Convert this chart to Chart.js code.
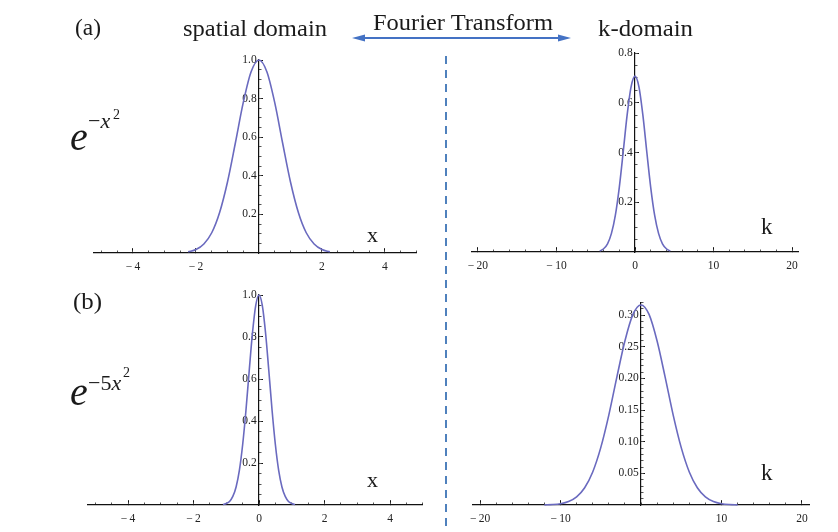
<!DOCTYPE html>
<html>
<head>
<meta charset="utf-8">
<script src="https://cdn.jsdelivr.net/npm/chart.js@4.4.0/dist/chart.umd.min.js"></script>
<style>
  html, body { margin: 0; padding: 0; background: #ffffff; }
  #wrap { position: relative; width: 838px; height: 532px; overflow: hidden; background: #fff; }
  canvas { position: absolute; }
  svg { position: absolute; left: 0; top: 0; pointer-events: none; }
</style>
</head>
<body>
<div id="wrap">
  <canvas id="cAL" width="380" height="250" style="left:50px;top:40px"></canvas>
  <canvas id="cAR" width="388" height="260" style="left:450px;top:30px"></canvas>
  <canvas id="cBL" width="380" height="257" style="left:50px;top:275px"></canvas>
  <canvas id="cBR" width="388" height="252" style="left:450px;top:280px"></canvas>
  <svg width="838" height="532" viewBox="0 0 838 532" xmlns="http://www.w3.org/2000/svg">
    <g font-family="'Liberation Serif','Times New Roman',serif" fill="#1a1a1a">
      <text x="75" y="35" font-size="23" textLength="26" lengthAdjust="spacingAndGlyphs">(a)</text>
      <text x="183" y="36" font-size="23" textLength="144" lengthAdjust="spacingAndGlyphs">spatial domain</text>
      <text x="373" y="30" font-size="23" textLength="180" lengthAdjust="spacingAndGlyphs">Fourier Transform</text>
      <text x="598" y="36" font-size="23" textLength="95" lengthAdjust="spacingAndGlyphs">k-domain</text>
      <text x="73" y="309" font-size="23" textLength="29" lengthAdjust="spacingAndGlyphs">(b)</text>
      <text x="367" y="242" font-size="22">x</text>
      <text x="761" y="234" font-size="23">k</text>
      <text x="367" y="487" font-size="22">x</text>
      <text x="761" y="480" font-size="23">k</text>
      <text y="150" font-size="40"><tspan x="70" font-style="italic">e</tspan></text>
      <text y="128" font-size="22"><tspan x="88">−</tspan><tspan font-style="italic">x</tspan></text>
      <text x="113" y="119" font-size="14">2</text>
      <text y="405" font-size="40"><tspan x="70" font-style="italic">e</tspan></text>
      <text y="390" font-size="22"><tspan x="88">−5</tspan><tspan font-style="italic">x</tspan></text>
      <text x="123" y="377" font-size="14">2</text>
    </g>
    <line x1="446" y1="56" x2="446" y2="532" stroke="#4f81bd" stroke-width="2" stroke-dasharray="8 6"/>
    <line x1="362" y1="38" x2="560" y2="38" stroke="#4472c4" stroke-width="2"/>
    <polygon points="352,38 365,34.5 365,41.5" fill="#4472c4"/>
    <polygon points="571,38 558,34.5 558,41.5" fill="#4472c4"/>
  </svg>
</div>
<script>
// ---- Data ----
// (a) spatial domain: f(x) = exp(-x^2)
const xA  = [-2.25, -2.0, -1.75, -1.5, -1.25, -1.0, -0.75, -0.5, -0.25, 0.0, 0.25, 0.5, 0.75, 1.0, 1.25, 1.5, 1.75, 2.0, 2.25];
const fA  = [0.006, 0.018, 0.047, 0.105, 0.210, 0.368, 0.570, 0.779, 0.939, 1.000, 0.939, 0.779, 0.570, 0.368, 0.210, 0.105, 0.047, 0.018, 0.006];
// (a) k-domain
const kA  = [-4.5, -4.0, -3.5, -3.0, -2.5, -2.0, -1.5, -1.0, -0.5, 0.0, 0.5, 1.0, 1.5, 2.0, 2.5, 3.0, 3.5, 4.0, 4.5];
const FA  = [0.004, 0.013, 0.033, 0.075, 0.148, 0.260, 0.403, 0.551, 0.664, 0.707, 0.664, 0.551, 0.403, 0.260, 0.148, 0.075, 0.033, 0.013, 0.004];
// (b) spatial domain: f(x) = exp(-5x^2)
const xB  = [-1.1, -1.0, -0.9, -0.8, -0.7, -0.6, -0.5, -0.4, -0.3, -0.2, -0.1, 0.0, 0.1, 0.2, 0.3, 0.4, 0.5, 0.6, 0.7, 0.8, 0.9, 1.0, 1.1];
const fB  = [0.002, 0.007, 0.017, 0.041, 0.086, 0.165, 0.287, 0.449, 0.638, 0.819, 0.951, 1.000, 0.951, 0.819, 0.638, 0.449, 0.287, 0.165, 0.086, 0.041, 0.017, 0.007, 0.002];
// (b) k-domain
const kB  = [-12, -11, -10, -9, -8, -7, -6, -5, -4, -3, -2, -1, 0, 1, 2, 3, 4, 5, 6, 7, 8, 9, 10, 11, 12];
const FB  = [0.0002, 0.0007, 0.0021, 0.0055, 0.0129, 0.0273, 0.0522, 0.0906, 0.142, 0.202, 0.259, 0.301, 0.316, 0.301, 0.259, 0.202, 0.142, 0.0906, 0.0522, 0.0273, 0.0129, 0.0055, 0.0021, 0.0007, 0.0002];

// ---- Tick labels ----
const xTicksAL = [-4, -2, 2, 4];
const xTicksBL = [-4, -2, 0, 2, 4];
const kTicksAR = [-20, -10, 0, 10, 20];
const kTicksBR = [-20, -10, 10, 20];
const yTicksAL = [0.2, 0.4, 0.6, 0.8, 1.0];
const yTicksAR = [0.2, 0.4, 0.6, 0.8];
const yTicksBL = [0.2, 0.4, 0.6, 0.8, 1.0];
const yTicksBR = [0.05, 0.10, 0.15, 0.20, 0.25, 0.30];

function range(a, b, s) {
  const out = [];
  const n = Math.round((b - a) / s);
  for (let i = 0; i <= n; i++) out.push(+(a + i * s).toFixed(6));
  return out;
}

const tickFont = { family: "'Liberation Serif','Times New Roman',serif", size: 11.5 };
const lineColor = '#6a6abf';

function fmtX(v) {
  if (v < 0) return '\u2212\u2009' + Math.abs(v);
  return String(v);
}

function panel(id, xs, ys, o) {
  const ctx = document.getElementById(id);
  new Chart(ctx, {
    type: 'line',
    data: {
      datasets: [{
        data: xs.map((x, i) => ({ x: x, y: ys[i] })),
        borderColor: lineColor,
        borderWidth: 1.6,
        pointRadius: 0,
        fill: false,
        cubicInterpolationMode: 'monotone',
        clip: false,
        xAxisID: 'x',
        yAxisID: 'y'
      }]
    },
    options: {
      responsive: false,
      animation: false,
      devicePixelRatio: 1,
      layout: { padding: o.pad },
      plugins: { legend: { display: false }, tooltip: { enabled: false }, title: { display: false } },
      scales: {
        x: {
          type: 'linear', position: { y: 0 }, min: o.xmin, max: o.xmax,
          afterFit: s => { s.height = 0; },
          afterBuildTicks: s => { s.ticks = o.xMajor.map(v => ({ value: v })); },
          ticks: { callback: v => fmtX(v), font: tickFont, color: '#222', padding: 12, autoSkip: false, maxRotation: 0 },
          grid: { drawOnChartArea: false, drawTicks: true, tickLength: -5, tickColor: '#111', tickWidth: 1 },
          border: { display: true, color: '#111', width: 1.2 }
        },
        xm: {
          type: 'linear', axis: 'x', position: { y: 0 }, min: o.xmin, max: o.xmax,
          afterFit: s => { s.height = 0; },
          afterBuildTicks: s => { s.ticks = o.xMinor.map(v => ({ value: v })); },
          ticks: { display: false },
          grid: { drawOnChartArea: false, drawTicks: true, tickLength: -2.5, tickColor: '#555', tickWidth: 1 },
          border: { display: false }
        },
        y: {
          type: 'linear', position: { x: 0 }, min: 0, max: o.ymax,
          afterFit: s => { s.width = 0; },
          afterBuildTicks: s => { s.ticks = o.yMajor.map(v => ({ value: v })); },
          ticks: { callback: v => v.toFixed(o.yDec) + '\u2009', font: tickFont, color: '#222', padding: 0, autoSkip: false },
          grid: { drawOnChartArea: false, drawTicks: true, tickLength: -5, tickColor: '#111', tickWidth: 1 },
          border: { display: true, color: '#111', width: 1.2 }
        },
        ym: {
          type: 'linear', axis: 'y', position: { x: 0 }, min: 0, max: o.ymax,
          afterFit: s => { s.width = 0; },
          afterBuildTicks: s => { s.ticks = o.yMinor.map(v => ({ value: v })); },
          ticks: { display: false },
          grid: { drawOnChartArea: false, drawTicks: true, tickLength: -2.5, tickColor: '#555', tickWidth: 1 },
          border: { display: false }
        }
      }
    }
  });
}

panel('cAL', xA, fA, {
  pad: { left: 43.6, right: 13.5, top: 20, bottom: 37 },
  xmin: -5.25, xmax: 5.0, ymax: 1.0, yDec: 1,
  xMajor: xTicksAL, xMinor: range(-5, 5, 0.5),
  yMajor: yTicksAL, yMinor: range(0.05, 1.0, 0.05)
});
panel('cAR', kA, FA, {
  pad: { left: 21.7, right: 39.7, top: 23, bottom: 38 },
  xmin: -20.8, xmax: 20.8, ymax: 0.8, yDec: 1,
  xMajor: kTicksAR, xMinor: range(-20, 20, 2),
  yMajor: yTicksAR, yMinor: range(0.05, 0.8, 0.05)
});
panel('cBL', xB, fB, {
  pad: { left: 37.1, right: 7.25, top: 20, bottom: 27 },
  xmin: -5.25, xmax: 5.0, ymax: 1.0, yDec: 1,
  xMajor: xTicksBL, xMinor: range(-5, 5, 0.5),
  yMajor: yTicksBL, yMinor: range(0.05, 1.0, 0.05)
});
panel('cBR', kB, FB, {
  pad: { left: 22.8, right: 28.8, top: 22.4, bottom: 27 },
  xmin: -20.9, xmax: 20.9, ymax: 0.32, yDec: 2,
  xMajor: kTicksBR, xMinor: range(-20, 20, 2),
  yMajor: yTicksBR, yMinor: range(0.01, 0.32, 0.01)
});
</script>
</body>
</html>
